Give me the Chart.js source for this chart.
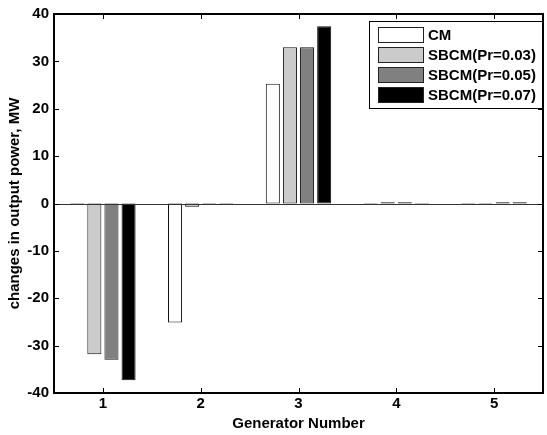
<!DOCTYPE html>
<html>
<head>
<meta charset="utf-8">
<script src="https://cdn.jsdelivr.net/npm/chart.js@4"></script>
<style>
  html, body { margin: 0; padding: 0; background: #fff; }
  #wrap { width: 547px; height: 435px; position: relative; }
</style>
</head>
<body>
<div id="wrap"><canvas id="c"></canvas></div>
<script>
'use strict';

// generator numbers on the x axis
const generators = ['1', '2', '3', '4', '5'];
const seriesNames = ['CM', 'SBCM(Pr=0.03)', 'SBCM(Pr=0.05)', 'SBCM(Pr=0.07)'];

// changes in output power (MW)
const cm     = [-0.1, -25.1, 25.3, -0.1, -0.1];
const sbcm03 = [-31.8, -0.7, 33.0, 0.25, -0.1];
const sbcm05 = [-33.0, -0.1, 33.0, 0.25, 0.25];
const sbcm07 = [-37.3, -0.1, 37.4, -0.1, 0.25];

const yTicks = [-40, -30, -20, -10, 0, 10, 20, 30, 40];

const fills = ['#ffffff', '#cbcbcb', '#808080', '#000000'];
const FONT = { family: "'Liberation Sans', Arial, sans-serif", size: 15, weight: 'bold' };

/* box round the axes, inward tick marks and the zero baseline (MATLAB look) */
const frame = {
    id: 'frame',
    afterDatasetsDraw(chart) {
        const { ctx, chartArea: a, scales: { x, y } } = chart;
        ctx.save();
        const y0 = Math.round(y.getPixelForValue(0)) + 0.5;
        ctx.strokeStyle = '#333';
        ctx.lineWidth = 1;
        ctx.beginPath();
        ctx.moveTo(a.left, y0);
        ctx.lineTo(a.right, y0);
        ctx.stroke();

        ctx.strokeStyle = '#000';
        ctx.lineWidth = 1;
        ctx.beginPath();
        yTicks.forEach(v => {
            const py = Math.round(y.getPixelForValue(v)) + 0.5;
            ctx.moveTo(a.left, py); ctx.lineTo(a.left + 5, py);
            ctx.moveTo(a.right, py); ctx.lineTo(a.right - 5, py);
        });
        generators.forEach((g, i) => {
            const px = Math.round(x.getPixelForValue(i)) + 0.5;
            ctx.moveTo(px, a.bottom); ctx.lineTo(px, a.bottom - 5);
            ctx.moveTo(px, a.top); ctx.lineTo(px, a.top + 5);
        });
        ctx.stroke();

        ctx.lineWidth = 2;
        ctx.strokeRect(a.left, a.top, a.right - a.left, a.bottom - a.top);
        ctx.restore();
    },
    afterDraw(chart) {
        // legend box in the upper-right corner
        const { ctx, chartArea: a } = chart;
        const bx = a.right - 174, by = a.top + 7, bw = 173, bh = 87;
        ctx.save();
        ctx.fillStyle = '#fff';
        ctx.fillRect(bx, by, bw, bh);
        ctx.strokeStyle = '#000';
        ctx.lineWidth = 1;
        ctx.strokeRect(bx + 0.5, by + 0.5, bw, bh);
        ctx.font = `${FONT.weight} ${FONT.size}px ${FONT.family}`;
        ctx.textBaseline = 'middle';
        seriesNames.forEach((name, i) => {
            const ry = by + 6 + i * 20;
            ctx.fillStyle = fills[i];
            ctx.fillRect(bx + 9, ry, 45, 15);
            ctx.strokeStyle = '#222';
            ctx.strokeRect(bx + 9.5, ry + 0.5, 45, 15);
            ctx.fillStyle = '#000';
            ctx.fillText(name, bx + 59, ry + 8.5);
        });
        ctx.restore();
    }
};

const datasets = [cm, sbcm03, sbcm05, sbcm07].map((vals, i) => ({
    label: seriesNames[i],
    data: vals,
    backgroundColor: fills[i],
    borderColor: '#111',
    borderWidth: 1,
    borderSkipped: false,
    categoryPercentage: 0.7,
    barPercentage: 0.82,
}));

Chart.defaults.font.family = FONT.family;
Chart.defaults.color = '#000';

new Chart(document.getElementById('c'), {
    type: 'bar',
    data: { labels: generators, datasets },
    options: {
        responsive: true,
        maintainAspectRatio: false,
        animation: false,
        layout: { padding: { top: 14, right: 4, left: 0, bottom: 0 } },
        plugins: { legend: { display: false }, tooltip: { enabled: false } },
        scales: {
            x: {
                offset: true,
                grid: { display: false, drawTicks: false },
                border: { display: false },
                ticks: { font: FONT, padding: 2, color: '#000' },
                title: { display: true, text: 'Generator Number', font: FONT, color: '#000', padding: { top: 0, bottom: 2 } },
                afterFit(s) { s.height = 42; },
            },
            y: {
                min: -40,
                max: 40,
                grid: { display: false, drawTicks: false },
                border: { display: false },
                ticks: { stepSize: 10, font: FONT, padding: 5, color: '#000' },
                title: { display: true, text: 'changes in output power, MW', font: FONT, color: '#000', padding: { top: 6, bottom: 0 } },
                afterFit(s) { s.width = 54; },
            },
        },
    },
    plugins: [frame],
});
</script>
</body>
</html>
